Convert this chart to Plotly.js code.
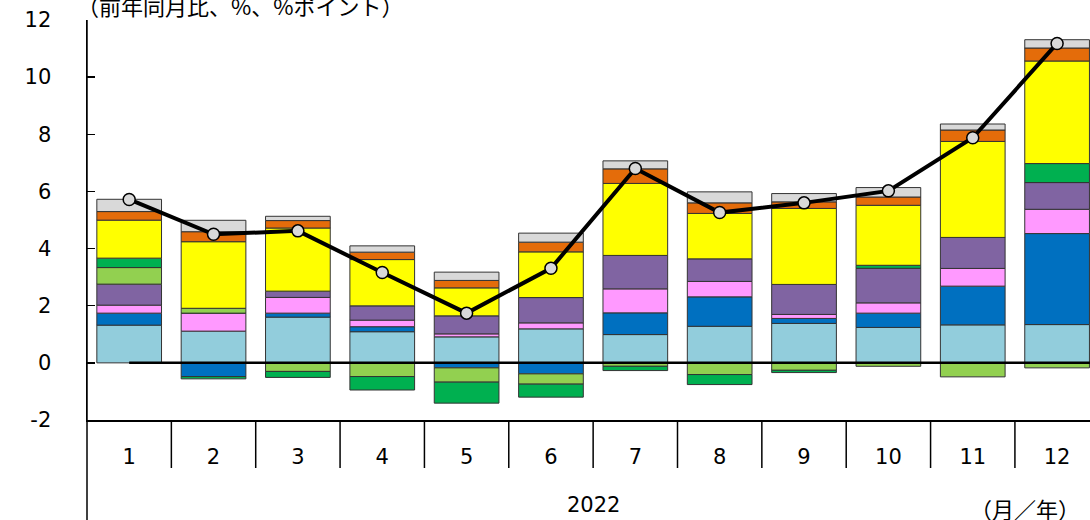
<!DOCTYPE html>
<html>
<head>
<meta charset="utf-8">
<script src="https://cdn.plot.ly/plotly-3.0.1.min.js"></script>
<style>
html,body{margin:0;padding:0;background:#fff;}
#chart{width:1090px;height:520px;}
</style>
</head>
<body>
<div id="chart"></div>
<script>
// Categories
const months = ['1','2','3','4','5','6','7','8','9','10','11','12'];
const yearLabel = '2022';

// Component series (stacked; negatives stack below zero)
const sLightBlue  = [1.32, 1.11, 1.60, 1.09, 0.91, 1.19, 0.99, 1.28, 1.38, 1.24, 1.33, 1.34];
const sBlue       = [0.42, -0.48, 0.14, 0.175, -0.175, -0.385, 0.76, 1.03, 0.175, 0.50, 1.355, 3.185];
const sPink       = [0.28, 0.63, 0.55, 0.23, 0.105, 0.21, 0.84, 0.54, 0.14, 0.36, 0.62, 0.85];
const sPurple     = [0.735, 0, 0.22, 0.50, 0.63, 0.885, 1.17, 0.79, 1.05, 1.21, 1.085, 0.935];
const sLightGreen = [0.58, 0.17, -0.30, -0.48, -0.50, -0.36, -0.12, -0.41, -0.26, -0.12, -0.49, -0.175];
const sGreen      = [0.33, -0.08, -0.21, -0.47, -0.735, -0.455, -0.15, -0.35, -0.08, 0.105, 0, 0.665];
const sYellow     = [1.33, 2.33, 2.21, 1.62, 0.98, 1.60, 2.52, 1.59, 2.66, 2.10, 3.36, 3.59];
const sOrange     = [0.30, 0.35, 0.26, 0.26, 0.26, 0.34, 0.51, 0.37, 0.23, 0.29, 0.40, 0.455];
const sGray       = [0.43, 0.40, 0.15, 0.22, 0.29, 0.315, 0.28, 0.385, 0.29, 0.33, 0.21, 0.29];
// Total (line)
const sTotal      = [5.72, 4.50, 4.62, 3.16, 1.74, 3.31, 6.80, 5.26, 5.60, 6.02, 7.88, 11.18];

const yTicks = [-2, 0, 2, 4, 6, 8, 10, 12];
const yTitle = '（前年同月比、%、%ポイント）';
const xUnit = '（月／年）';

const series = [
  [sLightBlue, '#92CDDC'],
  [sBlue, '#0070C0'],
  [sPink, '#FF99FF'],
  [sPurple, '#8064A2'],
  [sLightGreen, '#92D050'],
  [sGreen, '#00B050'],
  [sYellow, '#FFFF00'],
  [sOrange, '#E46C0A'],
  [sGray, '#D9D9D9']
];

const traces = series.map(([vals, col]) => ({
  type: 'bar', x: months, y: vals,
  marker: {color: col, line: {color: '#333333', width: 1}},
  hoverinfo: 'skip', showlegend: false
}));
traces.push({
  type: 'scatter', mode: 'lines+markers', x: months, y: sTotal,
  line: {color: '#000000', width: 4},
  marker: {symbol: 'circle', size: 12, color: '#D9D9D9', line: {color: '#000000', width: 1.5}},
  showlegend: false, cliponaxis: false
});

const shapes = [];
// category dividers below the axis
for (let i = 0; i < months.length - 1; i++) {
  shapes.push({type: 'line', xref: 'x', yref: 'paper', x0: i + 0.5, x1: i + 0.5, y0: 0, y1: -0.12,
    line: {color: '#000000', width: 1.5}});
}
// extended y-axis line
shapes.push({type: 'line', xref: 'paper', yref: 'paper', x0: 0, x1: 0, y0: 1, y1: -0.3,
  line: {color: '#000000', width: 1.5}});
// zero line
shapes.push({type: 'line', xref: 'x', yref: 'y', x0: 0, x1: months.length - 0.5, y0: 0, y1: 0,
  line: {color: '#000000', width: 2.5}, layer: 'above'});

const font = {family: 'DejaVu Sans, Verdana, sans-serif', size: 21, color: '#000000'};
const jfont = {family: 'Noto Sans CJK JP, sans-serif', size: 22, color: '#000000'};

const layout = {
  width: 1090, height: 520,
  margin: {l: 87, r: 0, t: 20, b: 100, pad: 0},
  paper_bgcolor: '#ffffff', plot_bgcolor: '#ffffff',
  barmode: 'relative', bargap: 0.233,
  showlegend: false,
  font: font,
  xaxis: {
    type: 'category', range: [-0.5, 11.39],
    showline: true, linecolor: '#000000', linewidth: 1.5,
    ticks: '', showgrid: false, zeroline: false,
    tickfont: font, ticklabelstandoff: 17
  },
  yaxis: {
    range: [-2, 12], tickvals: yTicks, ticktext: yTicks.map(String),
    showline: true, linecolor: '#000000', linewidth: 1.5,
    ticks: 'inside', ticklen: 8, tickwidth: 1.5, tickcolor: '#000000',
    showgrid: false, zeroline: false,
    tickfont: font, ticklabelstandoff: 30
  },
  shapes: shapes,
  annotations: [
    {xref: 'paper', yref: 'paper', x: 0, y: 1, xanchor: 'left', yanchor: 'bottom', yshift: -3, xshift: -12,
     text: yTitle, showarrow: false, font: jfont},
    {xref: 'x', yref: 'paper', x: 5.5, y: -0.2125, xanchor: 'center', yanchor: 'middle',
     text: yearLabel, showarrow: false, font: font},
    {xref: 'paper', yref: 'paper', x: 0.935, y: -0.22, xanchor: 'center', yanchor: 'middle',
     text: xUnit, showarrow: false, font: jfont}
  ]
};

Plotly.newPlot('chart', traces, layout, {staticPlot: true, displayModeBar: false});
</script>
</body>
</html>
